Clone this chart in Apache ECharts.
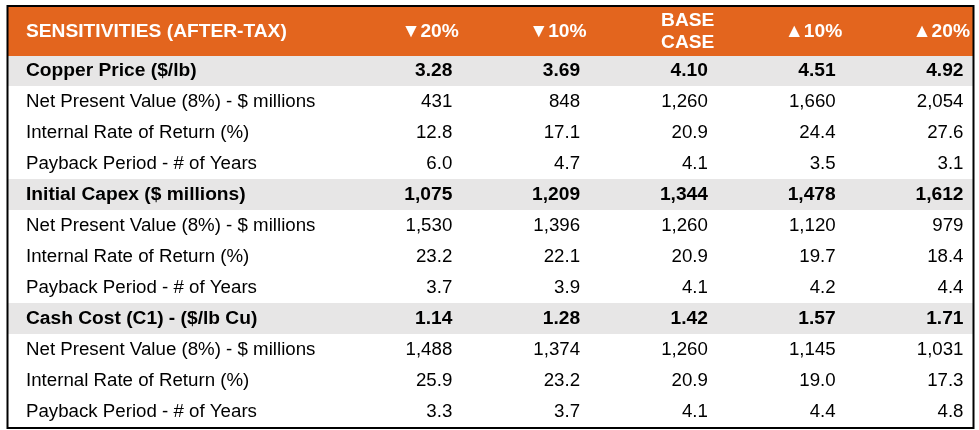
<!DOCTYPE html>
<html>
<head>
<meta charset="utf-8">
<script src="https://cdn.jsdelivr.net/npm/echarts@6/dist/echarts.min.js"></script>
<style>html,body{margin:0;padding:0;background:#fff;}#c{width:979px;height:430px;}</style>
</head>
<body>
<div id="c"></div>
<script>
// ---- data ----
const titleText = 'SENSITIVITIES (AFTER-TAX)';
const columns = ['▼20%', '▼10%', 'BASE\nCASE', '▲10%', '▲20%'];
const rowLabels = [
  'Copper Price ($/lb)',
  'Net Present Value (8%) - $ millions',
  'Internal Rate of Return (%)',
  'Payback Period - # of Years',
  'Initial Capex ($ millions)',
  'Net Present Value (8%) - $ millions',
  'Internal Rate of Return (%)',
  'Payback Period - # of Years',
  'Cash Cost (C1) - ($/lb Cu)',
  'Net Present Value (8%) - $ millions',
  'Internal Rate of Return (%)',
  'Payback Period - # of Years'
];
const rowIsSection = [true, false, false, false, true, false, false, false, true, false, false, false];
const rowDecimals = [2, 0, 1, 1, 0, 0, 1, 1, 2, 0, 1, 1];

const copperPrice   = [3.28, 3.69, 4.10, 4.51, 4.92];
const copperNPV     = [431, 848, 1260, 1660, 2054];
const copperIRR     = [12.8, 17.1, 20.9, 24.4, 27.6];
const copperPayback = [6.0, 4.7, 4.1, 3.5, 3.1];
const capex         = [1075, 1209, 1344, 1478, 1612];
const capexNPV      = [1530, 1396, 1260, 1120, 979];
const capexIRR      = [23.2, 22.1, 20.9, 19.7, 18.4];
const capexPayback  = [3.7, 3.9, 4.1, 4.2, 4.4];
const cashCost      = [1.14, 1.28, 1.42, 1.57, 1.71];
const cashNPV       = [1488, 1374, 1260, 1145, 1031];
const cashIRR       = [25.9, 23.2, 20.9, 19.0, 17.3];
const cashPayback   = [3.3, 3.7, 4.1, 4.4, 4.8];

const rowValues = [copperPrice, copperNPV, copperIRR, copperPayback,
                   capex, capexNPV, capexIRR, capexPayback,
                   cashCost, cashNPV, cashIRR, cashPayback];

// ---- styling ----
const ORANGE = '#E3651E';
const GRAY = '#E7E6E6';
const FONT = '"Liberation Sans", Arial, sans-serif';
const REG = 18.7, BOLD = 19.2;

function fmt(v, d) {
  return v.toLocaleString('en-US', {minimumFractionDigits: d, maximumFractionDigits: d});
}

const rowIdx = rowLabels.map((_, i) => String(i));

const labelData = rowLabels.map((l, i) => ({c: 0, r: i, t: l, s: rowIsSection[i]}));
const valueData = [];
rowValues.forEach((arr, r) => arr.forEach((v, c) => valueData.push({c: c, r: r, t: fmt(v, rowDecimals[r]), s: rowIsSection[r]})));
const headerData = columns.map((h, c) => ({c: c, r: 0, t: h, s: true}));
const titleData = [{c: 0, r: 0, t: titleText, s: true}];

function cellRender(items, pad, align, isHeader) {
  return function (params, api) {
    const item = items[params.dataIndex];
    const p = api.coord([item.c, item.r]);
    const s = api.size([1, 1]);
    const bold = isHeader || item.s;
    const bg = isHeader ? ORANGE : (item.s ? GRAY : '#ffffff');
    const x0 = p[0] - s[0] / 2, y0 = p[1] - s[1] / 2;
    const tx = align === 'left' ? x0 + pad : x0 + s[0] - pad;
    return {
      type: 'group',
      children: [
        {type: 'rect', shape: {x: Math.floor(x0), y: Math.floor(y0), width: Math.ceil(s[0]) + 1, height: Math.ceil(s[1]) + 1}, style: {fill: bg}},
        {type: 'text', z2: 10, style: {
          text: item.t, x: tx, y: p[1] + 0.5, align: align, verticalAlign: 'middle',
          fontFamily: FONT, fontSize: bold ? BOLD : REG, fontWeight: bold ? 'bold' : 'normal',
          lineHeight: 22, fill: isHeader ? '#ffffff' : '#000000'
        }}
      ]
    };
  };
}

function seriesData(items) { return items.map(it => [it.c, it.r]); }

const chart = echarts.init(document.getElementById('c'), null, {renderer: 'canvas'});

const GL = 8, GSPLIT = 334, GR = 973, TOP = 7, HEAD_B = 55, BOT = 427;

const option = {
  animation: false,
  backgroundColor: '#ffffff',
  grid: [
    {left: GL, top: HEAD_B, width: GSPLIT - GL, height: BOT - HEAD_B},
    {left: GSPLIT, top: HEAD_B, width: GR - GSPLIT, height: BOT - HEAD_B},
    {left: GL, top: TOP, width: GSPLIT - GL, height: HEAD_B - TOP},
    {left: GSPLIT, top: TOP, width: GR - GSPLIT, height: HEAD_B - TOP}
  ],
  xAxis: [
    {gridIndex: 0, type: 'category', data: ['label'], show: false},
    {gridIndex: 1, type: 'category', data: columns, show: false},
    {gridIndex: 2, type: 'category', data: ['label'], show: false},
    {gridIndex: 3, type: 'category', data: columns, show: false}
  ],
  yAxis: [
    {gridIndex: 0, type: 'category', data: rowIdx, inverse: true, show: false},
    {gridIndex: 1, type: 'category', data: rowIdx, inverse: true, show: false},
    {gridIndex: 2, type: 'category', data: ['h'], show: false},
    {gridIndex: 3, type: 'category', data: ['h'], show: false}
  ],
  series: [
    {type: 'custom', xAxisIndex: 0, yAxisIndex: 0, data: seriesData(labelData), renderItem: cellRender(labelData, 18, 'left', false), silent: true, z: 2},
    {type: 'custom', xAxisIndex: 1, yAxisIndex: 1, data: seriesData(valueData), renderItem: cellRender(valueData, 9.5, 'right', false), silent: true, z: 2},
    {type: 'custom', xAxisIndex: 2, yAxisIndex: 2, data: seriesData(titleData), renderItem: cellRender(titleData, 18, 'left', true), silent: true, z: 3},
    {type: 'custom', xAxisIndex: 3, yAxisIndex: 3, data: seriesData(headerData), renderItem: cellRender(headerData, 3, 'right', true), silent: true, z: 3}
  ],
  graphic: [
    {type: 'rect', z: 100, shape: {x: 7.5, y: 6, width: 966, height: 422},
     style: {fill: 'none', stroke: '#000000', lineWidth: 2}}
  ]
};
chart.setOption(option);
</script>
</body>
</html>
